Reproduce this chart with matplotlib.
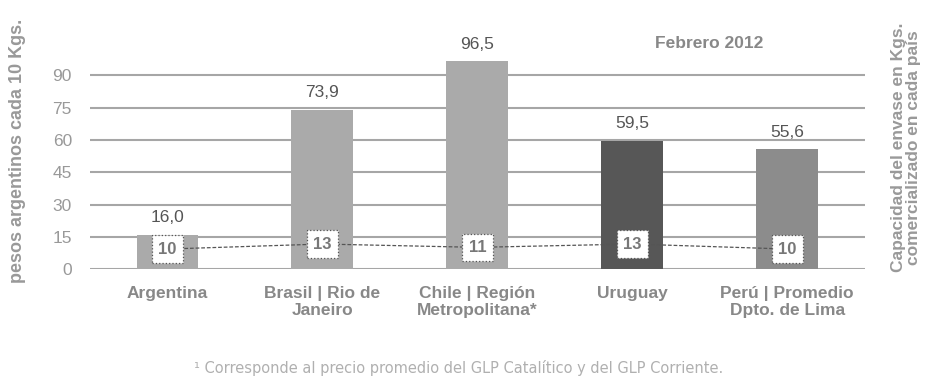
import matplotlib
matplotlib.use("Agg")
import matplotlib.pyplot as plt

plt.rcParams['font.family'] = ['Liberation Sans', 'DejaVu Sans']

categories = ["Argentina", "Brasil | Rio de\nJaneiro", "Chile | Región\nMetropolitana*",
              "Uruguay", "Perú | Promedio\nDpto. de Lima"]
prices = [16.0, 73.9, 96.5, 59.5, 55.6]
price_labels = ["16,0", "73,9", "96,5", "59,5", "55,6"]
capacity = [10, 13, 11, 13, 10]
yticks = [0, 15, 30, 45, 60, 75, 90]
bar_colors = ["#aaaaaa", "#aaaaaa", "#aaaaaa", "#575757", "#8c8c8c"]

fig = plt.figure(figsize=(9.3, 3.78), dpi=100)
ax = fig.add_axes([0.0968, 0.288, 0.833, 0.598])
x = list(range(len(categories)))

for y in yticks:
    ax.axhline(y, color="#a6a6a6", lw=1.5, zorder=0)
ax.bar(x, prices, width=0.4, color=bar_colors, zorder=2)
for xi, p, lab in zip(x, prices, price_labels):
    ax.text(xi, p + 4.5, lab, ha="center", va="bottom", fontsize=12.5, color="#555555")

ax.set_xlim(-0.5, 4.5)
ax.set_ylim(0, 105)
ax.set_yticks(yticks)
ax.set_yticklabels([str(v) for v in yticks], fontsize=12.5, color="#999999")
ax.set_xticks(x)
ax.set_xticklabels(categories, fontsize=12.5, color="#888888", fontweight="bold",
                   linespacing=1.15)
ax.tick_params(axis="both", length=0)
ax.tick_params(axis="y", pad=13)
ax.tick_params(axis="x", pad=12)
for s in ax.spines.values():
    s.set_visible(False)

ax2 = ax.twinx()
ax2.set_ylim(-2, 133)
ax2.plot(x, capacity, color="#555555", lw=0.9, ls=(0, (3, 1.5)), zorder=3)
for xi, c in zip(x, capacity):
    ax2.text(xi, c, str(c), ha="center", va="center", fontsize=12, color="#777777",
             fontweight="bold", zorder=4,
             bbox=dict(boxstyle="square,pad=0.38", fc="white", ec="#555555", lw=0.9, ls=":"))
ax2.set_yticks([])
for s in ax2.spines.values():
    s.set_visible(False)

fig.text(0.019, 0.60, "pesos argentinos cada 10 Kgs.", rotation=90, ha="center", va="center",
         fontsize=13, color="#999999", fontweight="bold")
fig.text(0.974, 0.61, "Capacidad del envase en Kgs.\ncomercializado en cada país", rotation=90,
         ha="center", va="center", fontsize=12.5, color="#999999", fontweight="bold",
         multialignment="center", linespacing=1.0)
fig.text(0.763, 0.886, "Febrero 2012", ha="center", va="center", fontsize=12.5,
         color="#888888", fontweight="bold")
fig.text(0.493, 0.027, "¹ Corresponde al precio promedio del GLP Catalítico y del GLP Corriente.",
         ha="center", va="center", fontsize=10.5, color="#b0b0b0",
         family=["DejaVu Sans"])

fig.savefig("out.png", dpi=100)
